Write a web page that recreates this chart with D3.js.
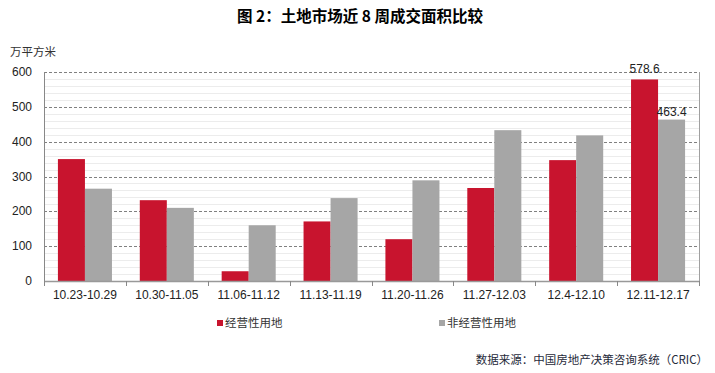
<!DOCTYPE html>
<html>
<head>
<meta charset="utf-8">
<script src="https://cdn.jsdelivr.net/npm/d3@7"></script>
<style>
  body { margin: 0; background: #fff; }
  text { font-family: "Liberation Sans", Arial, "Noto Sans CJK SC", sans-serif; }
  .cjk { font-family: "Noto Sans CJK SC", "Liberation Sans", sans-serif; }
</style>
</head>
<body>
<script>
// chart data
var weeks = ["10.23-10.29", "10.30-11.05", "11.06-11.12", "11.13-11.19", "11.20-11.26", "11.27-12.03", "12.4-12.10", "12.11-12.17"];
var seriesNames = ["经营性用地", "非经营性用地"];
var commercial = [350, 232, 28, 171, 120, 267, 347, 578.6];
var nonCommercial = [265, 210, 160, 238, 289, 433, 418, 463.4];
var yTicks = [0, 100, 200, 300, 400, 500, 600];
var colors = ["#c8142e", "#a6a6a6"];

var w = 715, h = 373;
var plotLeft = 44, plotRight = 699, plotTop = 72, plotBottom = 281;

var svg = d3.select("body").append("svg")
  .attr("width", w)
  .attr("height", h);

// scales
var x = d3.scaleBand().domain(weeks).range([plotLeft, plotRight]).padding(0);
var y = d3.scaleLinear().domain([0, 600]).range([plotBottom, plotTop]);
var barW = x.bandwidth() * 0.33;

// title
svg.append("text")
  .attr("class", "cjk")
  .attr("x", 360)
  .attr("y", 22)
  .attr("text-anchor", "middle")
  .style("font-size", "15.5px")
  .style("font-weight", "bold")
  .attr("fill", "#000")
  .text("图 2：土地市场近 8 周成交面积比较");

// unit label
svg.append("text")
  .attr("class", "cjk")
  .attr("x", 10)
  .attr("y", 56)
  .style("font-size", "11.5px")
  .attr("fill", "#333")
  .text("万平方米");

// minor gridlines every 20
svg.append("g").selectAll("line")
  .data(d3.range(20, 600, 20).filter(function(d) { return d % 100 != 0; }))
  .enter().append("line")
  .attr("x1", plotLeft).attr("x2", plotRight)
  .attr("y1", function(d) { return Math.round(y(d)) + 0.5; })
  .attr("y2", function(d) { return Math.round(y(d)) + 0.5; })
  .attr("stroke", "#ececec")
  .attr("stroke-width", 1);

// major dashed gridlines
svg.append("g").selectAll("line")
  .data(yTicks.slice(1))
  .enter().append("line")
  .attr("x1", plotLeft).attr("x2", plotRight)
  .attr("y1", function(d) { return Math.round(y(d)) + 0.5; })
  .attr("y2", function(d) { return Math.round(y(d)) + 0.5; })
  .attr("stroke", "#808080")
  .attr("stroke-dasharray", "3,2")
  .attr("stroke-width", 1);

// right border
svg.append("line")
  .attr("x1", plotRight + 0.5).attr("x2", plotRight + 0.5)
  .attr("y1", plotTop).attr("y2", plotBottom)
  .attr("stroke", "#a0a0a0");

// bars
var groups = svg.append("g").selectAll("g")
  .data(weeks)
  .enter().append("g")
  .attr("transform", function(d) { return "translate(" + (x(d) + x.bandwidth() / 2) + ",0)"; });

groups.append("rect")
  .attr("x", -barW)
  .attr("y", function(d, i) { return y(commercial[i]); })
  .attr("width", barW)
  .attr("height", function(d, i) { return plotBottom - y(commercial[i]); })
  .attr("fill", colors[0]);

groups.append("rect")
  .attr("x", 0)
  .attr("y", function(d, i) { return y(nonCommercial[i]); })
  .attr("width", barW)
  .attr("height", function(d, i) { return plotBottom - y(nonCommercial[i]); })
  .attr("fill", colors[1]);

// value labels on last week
var last = weeks.length - 1;
svg.append("text")
  .attr("x", x(weeks[last]) + x.bandwidth() / 2 - barW / 2)
  .attr("y", y(commercial[last]) - 6)
  .attr("text-anchor", "middle")
  .style("font-size", "12px")
  .attr("fill", "#222")
  .text(commercial[last].toFixed(1));

svg.append("text")
  .attr("x", x(weeks[last]) + x.bandwidth() / 2 + barW / 2)
  .attr("y", y(nonCommercial[last]) - 4)
  .attr("text-anchor", "middle")
  .style("font-size", "12px")
  .attr("fill", "#222")
  .text(nonCommercial[last].toFixed(1));

// x axis
var xAxis = svg.append("g")
  .attr("transform", "translate(0," + plotBottom + ")");
xAxis.append("line")
  .attr("x1", plotLeft).attr("x2", plotRight + 1)
  .attr("y1", 0.5).attr("y2", 0.5)
  .attr("stroke", "#999")
  .attr("stroke-width", 1.5);
xAxis.selectAll(".tk")
  .data(weeks.concat(["end"]))
  .enter().append("line")
  .attr("x1", function(d, i) { return Math.round(plotLeft + i * x.bandwidth()) + 0.5; })
  .attr("x2", function(d, i) { return Math.round(plotLeft + i * x.bandwidth()) + 0.5; })
  .attr("y1", 0).attr("y2", 5)
  .attr("stroke", "#888");
xAxis.selectAll(".lbl")
  .data(weeks)
  .enter().append("text")
  .attr("x", function(d) { return x(d) + x.bandwidth() / 2; })
  .attr("y", 18)
  .attr("text-anchor", "middle")
  .style("font-size", "12px")
  .attr("fill", "#222")
  .text(function(d) { return d; });

// y axis
var yAxis = svg.append("g");
yAxis.append("line")
  .attr("x1", plotLeft + 0.5).attr("x2", plotLeft + 0.5)
  .attr("y1", plotTop).attr("y2", plotBottom + 5)
  .attr("stroke", "#888");
yAxis.selectAll("text")
  .data(yTicks)
  .enter().append("text")
  .attr("x", 32)
  .attr("y", function(d) { return y(d) + 4; })
  .attr("text-anchor", "end")
  .style("font-size", "12px")
  .attr("fill", "#222")
  .text(function(d) { return d; });

// legend
var legendX = [217, 439];
var legend = svg.selectAll(".legend")
  .data(seriesNames)
  .enter().append("g")
  .attr("class", "legend")
  .attr("transform", function(d, i) { return "translate(" + legendX[i] + ",323)"; });
legend.append("rect")
  .attr("x", 0).attr("y", -3)
  .attr("width", 6).attr("height", 6)
  .attr("fill", function(d, i) { return colors[i]; });
legend.append("text")
  .attr("class", "cjk")
  .attr("x", 8)
  .attr("y", 4)
  .style("font-size", "11.5px")
  .attr("fill", "#333")
  .text(function(d) { return d; });

// source
svg.append("text")
  .attr("class", "cjk")
  .attr("x", 708)
  .attr("y", 364)
  .attr("text-anchor", "end")
  .style("font-size", "11.5px")
  .attr("fill", "#1f2a3a")
  .text("数据来源：中国房地产决策咨询系统（CRIC）");
</script>
</body>
</html>
